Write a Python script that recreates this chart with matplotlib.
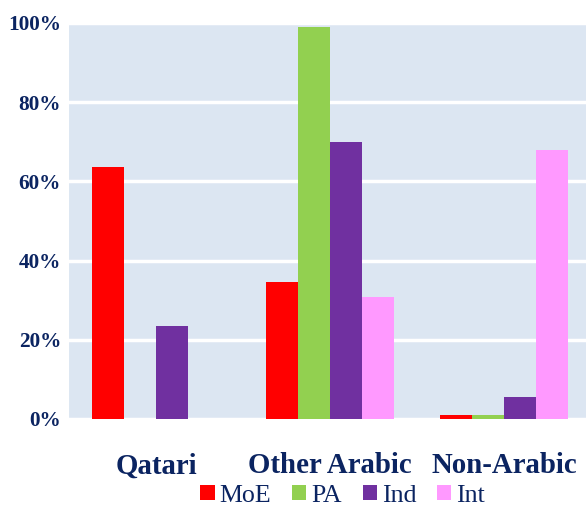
import matplotlib.pyplot as plt
import numpy as np

# origin groups and the share (%) of each school type
groups = ["Qatari", "Other Arabic", "Non-Arabic"]
series = ["MoE", "PA", "Ind", "Int"]
moe = [63.7, 34.7, 0.9]
pa = [0, 98.9, 0.9]
ind = [23.6, 69.9, 5.5]
intl = [0, 30.7, 68.0]
colors = ["#FF0000", "#92D050", "#7030A0", "#FF99FF"]

navy = "#0B2461"
plt.rcParams['font.family'] = ['Liberation Serif', 'DejaVu Serif']

fig = plt.figure(figsize=(5.86, 5.08), dpi=100)
ax = fig.add_axes([68/586, 89/508, 1 - 68/586, 396/508])
ax.set_facecolor("#DCE6F2")

x = np.arange(len(groups))
w = 0.184
for i, (vals, c, lab) in enumerate(zip([moe, pa, ind, intl], colors, series)):
    ax.bar(x + (i - 1.5) * w, vals, w, color=c, label=lab, zorder=3)

ax.set_xlim(-0.506, 2.47)
ax.set_ylim(0, 100)
ax.set_yticks([0, 20, 40, 60, 80, 100])
ax.set_yticklabels(["0%", "20%", "40%", "60%", "80%", "100%"],
                   fontsize=15.3, fontweight='bold', color=navy)
ax.yaxis.grid(True, color="white", linewidth=2.5, zorder=1)
ax.set_axisbelow(True)
ax.set_xticks(x)
ax.set_xticklabels(groups, fontsize=20.8, fontweight='bold', color=navy)
ax.tick_params(axis='x', length=0, pad=24)
ax.tick_params(axis='y', length=0, pad=5)
for s in ["top", "right", "bottom"]:
    ax.spines[s].set_visible(False)
ax.spines["left"].set_color("white")

fig.legend(loc='lower center', bbox_to_anchor=(0.585, 0.0), ncol=4, frameon=False,
           prop={'size': 18.6}, handlelength=0.55, handleheight=0.55,
           handletextpad=0.2, columnspacing=0.8, labelcolor=navy,
           borderpad=0.05, borderaxespad=0.0)

fig.savefig("out.png", dpi=100)
